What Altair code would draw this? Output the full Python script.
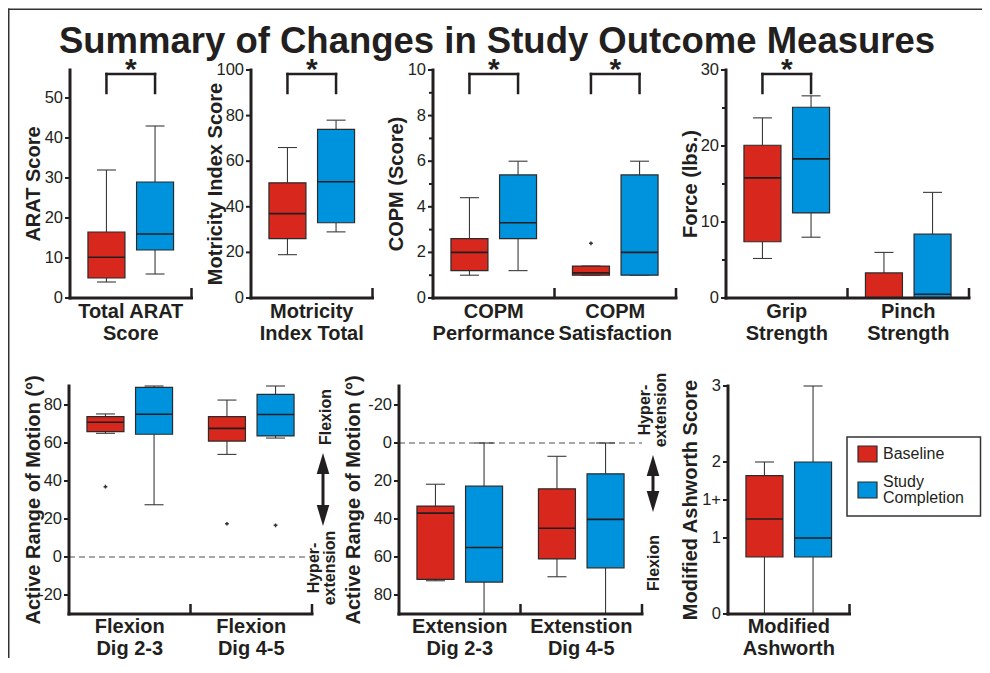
import altair as alt
import pandas as pd

W, H = 974, 650
RED, BLUE = "#d8271d", "#0093dd"
INK = "#231f20"
FONT = "Liberation Sans"

GROUPS = ["Baseline", "Study Completion"]

# Box summaries: (whisker low, Q1, median, Q3, whisker high)
ARAT_CATS = ["Total ARAT\nScore"]
ARAT_BASE = [(4, 5, 10.2, 16.5, 32)]
ARAT_DONE = [(6, 12, 16, 29, 43)]

MI_CATS = ["Motricity\nIndex Total"]
MI_BASE = [(19, 26, 37, 50.5, 66)]
MI_DONE = [(29, 33, 51, 74, 78)]

COPM_CATS = ["COPM\nPerformance", "COPM\nSatisfaction"]
COPM_BASE = [(1, 1.2, 2, 2.6, 4.4), (1, 1, 1.1, 1.4, 1.4)]
COPM_DONE = [(1.2, 2.6, 3.3, 5.4, 6), (1, 1, 2, 5.4, 6)]
COPM_OUT = [(1, "Baseline", 2.4)]

FORCE_CATS = ["Grip\nStrength", "Pinch\nStrength"]
FORCE_BASE = [(5.2, 7.4, 15.8, 20.1, 23.7), (0, 0, 0, 3.3, 6.0)]
FORCE_DONE = [(8, 11.2, 18.3, 25.1, 26.6), (0, 0, 0.5, 8.4, 13.9)]

FLEX_CATS = ["Flexion\nDig 2-3", "Flexion\nDig 4-5"]
FLEX_BASE = [(65.1, 66, 70.9, 73.9, 75.3), (54, 61, 67.7, 73.9, 82.6)]
FLEX_DONE = [(27.5, 64.6, 75.1, 89.3, 90), (62.6, 63.7, 75, 85.6, 90)]
FLEX_OUT = [(0, "Baseline", 37), (1, "Baseline", 17.5), (1, "Study Completion", 16.7)]

EXT_CATS = ["Extension\nDig 2-3", "Extenstion\nDig 4-5"]
EXT_BASE = [(21.7, 33.2, 36.9, 71.8, 72.5), (7, 24.1, 44.9, 61, 70.4)]
EXT_DONE = [(0, 22.7, 55, 73.2, 90), (0, 16.2, 40.2, 65.7, 90)]

ASH_CATS = ["Modified\nAshworth"]
ASH_BASE = [(0, 0.75, 1.25, 1.82, 2)]
ASH_DONE = [(0, 0.75, 1, 2, 3)]

ARAT_TICKS = [0, 10, 20, 30, 40, 50]
MI_TICKS = [0, 20, 40, 60, 80, 100]
COPM_TICKS = [0, 2, 4, 6, 8, 10]
COPM_MINOR = [1, 3, 5, 7, 9]
FORCE_TICKS = [0, 10, 20, 30]
FORCE_MINOR = [5, 15, 25]
ROM_TICKS = [-20, 0, 20, 40, 60, 80]
ASH_TICKS = [0, 1, 1.5, 2, 3]
ASH_LABELS = ["0", "1", "1+", "2", "3"]

LEGEND_LABELS = ["Baseline", "Study\nCompletion"]

BAND = 121.5
GAP = 0.2
BOX_HALF = 18.5
CAP_HALF = 9.5

cscale = alt.Scale(domain=GROUPS, range=[RED, BLUE])
one = pd.DataFrame({"k": [0]})
TXT = dict(font=FONT, color=INK)


def panel(cats, base, done, x0, ydom, yrng, ticks, labels, ytitle, tx, ty, label_y,
          minor=(), outliers=(), stars=(), zero=False):
    n = len(cats)
    xs = alt.Scale(domain=[-0.5, n - 0.5], range=[x0, x0 + BAND * n], zero=False, nice=False)
    ys = alt.Scale(domain=ydom, range=yrng, zero=False, nice=False)
    X = lambda f: alt.X(f, type="quantitative", scale=xs, axis=None)
    Y = lambda f: alt.Y(f, type="quantitative", scale=ys, axis=None)
    rows = []
    for ci in range(n):
        for gi, stats in enumerate((base[ci], done[ci])):
            lo, q1, med, q3, hi = stats
            rows.append(dict(grp=GROUPS[gi], xpos=ci + (gi - 0.5) * 2 * GAP,
                             lo=lo, q1=q1, med=med, q3=q3, hi=hi))
    boxes = pd.DataFrame(rows)
    if yrng[0] > yrng[1]:
        bot_val, top_val = ydom[0], ydom[1]
    else:
        bot_val, top_val = ydom[1], ydom[0]
    frame = pd.DataFrame({"xl": [-0.5], "xr": [n - 0.5], "yb": [bot_val], "yt": [top_val], "zero": [0]})
    seps = pd.DataFrame({"xs": [i + 0.5 for i in range(n)], "yb": [bot_val] * n})
    tick_df = pd.DataFrame({"v": ticks, "lab": labels, "xl": [-0.5] * len(ticks)})
    cat_df = pd.DataFrame({"c": list(range(n)), "lab": cats})

    layers = []
    if zero:
        layers.append(alt.Chart(frame).mark_rule(color="#a6a6a6", strokeWidth=2, strokeDash=[6, 4])
                      .encode(x=X("xl"), x2="xr", y=Y("zero")))
    wr = dict(color="#3a3a3a", strokeWidth=1.1)
    layers += [
        alt.Chart(boxes).mark_rule(**wr).encode(x=X("xpos"), y=Y("q3"), y2="hi"),
        alt.Chart(boxes).mark_rule(**wr).encode(x=X("xpos"), y=Y("lo"), y2="q1"),
        alt.Chart(boxes).mark_rule(xOffset=-CAP_HALF, x2Offset=CAP_HALF, **wr)
        .encode(x=X("xpos"), x2="xpos", y=Y("hi")),
        alt.Chart(boxes).mark_rule(xOffset=-CAP_HALF, x2Offset=CAP_HALF, **wr)
        .encode(x=X("xpos"), x2="xpos", y=Y("lo")),
        alt.Chart(boxes).mark_rect(xOffset=-BOX_HALF, x2Offset=BOX_HALF, stroke="#2b2b2b", strokeWidth=1.2)
        .encode(x=X("xpos"), x2="xpos", y=Y("q1"), y2="q3",
                color=alt.Color("grp:N", scale=cscale, legend=None)),
        alt.Chart(boxes).mark_rule(xOffset=-BOX_HALF, x2Offset=BOX_HALF, color=INK, strokeWidth=1.6)
        .encode(x=X("xpos"), x2="xpos", y=Y("med")),
    ]
    if outliers:
        odf = pd.DataFrame([dict(xpos=c + (GROUPS.index(g) - 0.5) * 2 * GAP, v=v) for c, g, v in outliers])
        layers.append(alt.Chart(odf).mark_point(shape="cross", size=14, filled=True, color="#333333", opacity=1)
                      .encode(x=X("xpos"), y=Y("v")))
    # axes
    layers += [
        alt.Chart(frame).mark_rule(color=INK, strokeWidth=3, strokeCap="square")
        .encode(x=X("xl"), y=Y("yb"), y2="yt"),
        alt.Chart(frame).mark_rule(color=INK, strokeWidth=3, strokeCap="square")
        .encode(x=X("xl"), x2="xr", y=Y("yb")),
        alt.Chart(seps).mark_rule(color=INK, strokeWidth=2.5, y2Offset=-10)
        .encode(x=X("xs"), y=Y("yb"), y2="yb"),
        alt.Chart(tick_df).mark_rule(color=INK, strokeWidth=2, xOffset=-5)
        .encode(x=X("xl"), x2="xl", y=Y("v")),
        alt.Chart(tick_df).mark_text(align="right", baseline="middle", dx=-7, fontSize=16.5, **TXT)
        .encode(x=X("xl"), y=Y("v"), text="lab:N"),
        alt.Chart(one).mark_text(angle=270, align="center", baseline="middle", fontSize=20,
                                 fontWeight="bold", text=ytitle, **TXT)
        .encode(x=alt.value(tx), y=alt.value(ty)),
        alt.Chart(cat_df).mark_text(align="center", baseline="alphabetic", fontSize=20, fontWeight="bold",
                                    lineBreak="\n", lineHeight=22, **TXT)
        .encode(x=X("c"), y=alt.value(label_y), text="lab:N"),
    ]
    if minor:
        mdf = pd.DataFrame({"v": list(minor), "xl": [-0.5] * len(minor)})
        layers.append(alt.Chart(mdf).mark_rule(color=INK, strokeWidth=2, xOffset=-4)
                      .encode(x=X("xl"), x2="xl", y=Y("v")))
    if stars:
        sdf = pd.DataFrame({"c": list(stars), "bl": [s - GAP for s in stars], "br": [s + GAP for s in stars]})
        br = dict(color=INK, strokeWidth=2.5, strokeCap="square")
        layers += [
            alt.Chart(sdf).mark_rule(**br).encode(x=X("bl"), x2="br", y=alt.value(66)),
            alt.Chart(sdf).mark_rule(**br).encode(x=X("bl"), y=alt.value(66), y2=alt.value(85)),
            alt.Chart(sdf).mark_rule(**br).encode(x=X("br"), y=alt.value(66), y2=alt.value(85)),
            alt.Chart(sdf).mark_text(text="*", fontSize=30, fontWeight="bold", align="center",
                                     baseline="alphabetic", **TXT)
            .encode(x=X("c"), y=alt.value(71)),
        ]
    return alt.layer(*layers)


def arrow(x, ytop, ybot):
    return [
        alt.Chart(one).mark_rule(color=INK, strokeWidth=3)
        .encode(x=alt.value(x), y=alt.value(ytop + 15), y2=alt.value(ybot - 15)),
        alt.Chart(one).mark_point(shape="M0,-1L0.6,1L-0.6,1Z", size=441, filled=True, color=INK, opacity=1)
        .encode(x=alt.value(x), y=alt.value(ytop + 10.5)),
        alt.Chart(one).mark_point(shape="M0,1L0.6,-1L-0.6,-1Z", size=441, filled=True, color=INK, opacity=1)
        .encode(x=alt.value(x), y=alt.value(ybot - 10.5)),
    ]


def vtext(s, x, y):
    return alt.Chart(one).mark_text(angle=270, align="center", baseline="middle", fontSize=16,
                                    fontWeight="bold", lineBreak="\n", lineHeight=16, text=s, **TXT) \
        .encode(x=alt.value(x), y=alt.value(y))


TOP = [290, 62]
BOT = [606, 378]

p_arat = panel(ARAT_CATS, ARAT_BASE, ARAT_DONE, 62, [0, 57], TOP, ARAT_TICKS, [str(t) for t in ARAT_TICKS],
               "ARAT Score", 25.5, 176, 310, stars=[0])
p_mi = panel(MI_CATS, MI_BASE, MI_DONE, 243, [0, 100], TOP, MI_TICKS, [str(t) for t in MI_TICKS],
             "Motricity Index Score", 207.5, 176, 310, stars=[0])
p_copm = panel(COPM_CATS, COPM_BASE, COPM_DONE, 425, [0, 10], TOP, COPM_TICKS, [str(t) for t in COPM_TICKS],
               "COPM (Score)", 389, 176, 310, minor=COPM_MINOR, outliers=COPM_OUT, stars=[0, 1])
p_force = panel(FORCE_CATS, FORCE_BASE, FORCE_DONE, 718, [0, 30], TOP, FORCE_TICKS, [str(t) for t in FORCE_TICKS],
                "Force (lbs.)", 683, 176, 310, minor=FORCE_MINOR, stars=[0])
p_flex = panel(FLEX_CATS, FLEX_BASE, FLEX_DONE, 61, [-30, 90], BOT, ROM_TICKS, [str(t) for t in ROM_TICKS],
               "Active Range of Motion (°)", 25.5, 492, 625, outliers=FLEX_OUT, zero=True)
p_ext = panel(EXT_CATS, EXT_BASE, EXT_DONE, 391, [-30, 90], [378, 606], ROM_TICKS, [str(t) for t in ROM_TICKS],
              "Active Range of Motion (°)", 345.5, 492, 625, zero=True)
p_ash = panel(ASH_CATS, ASH_BASE, ASH_DONE, 720, [0, 3], BOT, ASH_TICKS, ASH_LABELS,
              "Modified Ashworth Score", 683, 492, 625)

# legend
leg_df = pd.DataFrame({"grp": GROUPS, "lab": LEGEND_LABELS, "i": [0, 1]})
ly = alt.Scale(domain=[0, 1], range=[446, 482], zero=False, nice=False)
LY = alt.Y("i:Q", scale=ly, axis=None)
legend = alt.layer(
    alt.Chart(one).mark_rect(fill="white", stroke="#333333", strokeWidth=1.5)
    .encode(x=alt.value(839), x2=alt.value(972.5), y=alt.value(429), y2=alt.value(508)),
    alt.Chart(leg_df).mark_point(shape="M-1,-0.84L1,-0.84L1,0.84L-1,0.84Z", size=361, filled=True,
                                 stroke="#2b2b2b", strokeWidth=1.2, opacity=1)
    .encode(x=alt.value(859.5), y=LY, color=alt.Color("grp:N", scale=cscale, legend=None)),
    alt.Chart(leg_df).transform_filter("datum.i == 0")
    .mark_text(align="left", baseline="middle", fontSize=16, **TXT)
    .encode(x=alt.value(875), y=LY, text="lab:N"),
    alt.Chart(leg_df).transform_filter("datum.i == 1")
    .mark_text(align="left", baseline="middle", fontSize=16, lineBreak="\n", lineHeight=16, dy=-8, **TXT)
    .encode(x=alt.value(875), y=LY, text="lab:N"),
)

decor = [
    alt.Chart(one).mark_rect(fill="#333333")
    .encode(x=alt.value(0), x2=alt.value(W), y=alt.value(0.5), y2=alt.value(2)),
    alt.Chart(one).mark_rect(fill="#333333")
    .encode(x=alt.value(0), x2=alt.value(1.5), y=alt.value(0.5), y2=alt.value(H)),
    alt.Chart(one).mark_text(text="Summary of Changes in Study Outcome Measures", fontSize=36.5,
                             fontWeight="bold", align="center", baseline="alphabetic", **TXT)
    .encode(x=alt.value(489), y=alt.value(45)),
    vtext("Flexion", 318, 409),
    vtext("Hyper-\nextension", 306, 560),
    vtext("Hyper-\nextension", 637, 402),
    vtext("Flexion", 646, 555),
] + arrow(315, 445, 518) + arrow(645, 447, 504)

chart = alt.layer(
    p_arat, p_mi, p_copm, p_force, p_flex, p_ext, p_ash, legend, *decor
).resolve_scale(x="independent", y="independent").properties(
    width=W, height=H, padding=0, background="white"
).configure_view(stroke=None)

chart.save("out.html", embed_options={"renderer": "svg", "actions": False})
